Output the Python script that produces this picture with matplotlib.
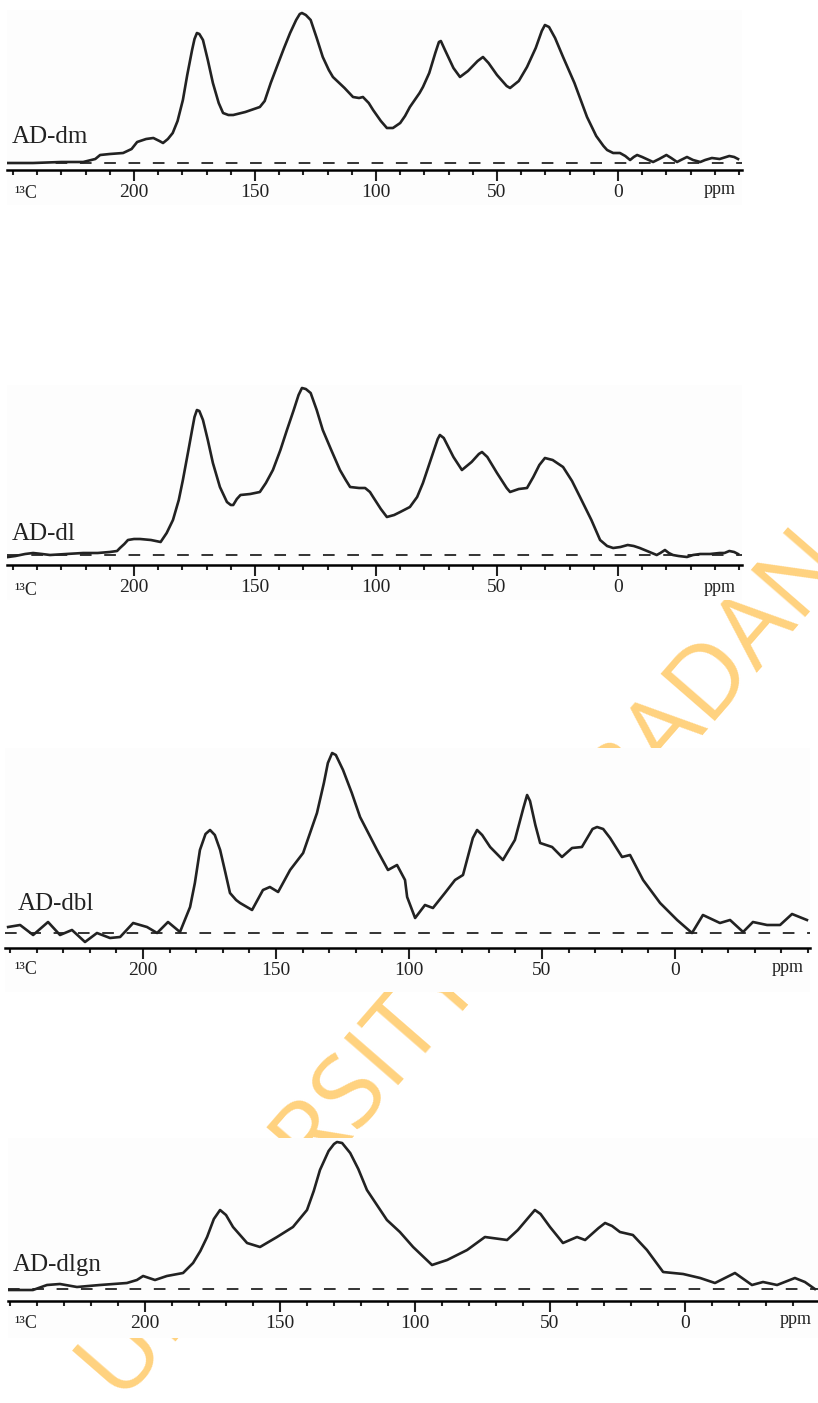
import matplotlib
matplotlib.use("Agg")
import matplotlib.pyplot as plt
from matplotlib.ticker import MultipleLocator

plt.rcParams['font.family'] = ['Liberation Serif', 'DejaVu Serif']

# 13C CP-MAS spectra, chemical shift (ppm) and intensity (arb. units)
ppm_dm = [252, 245, 241.7, 230, 221, 216, 214, 210, 204.5, 201, 198.7, 195, 192, 189.5,
          188, 186, 184, 182, 179.8, 178, 176, 175, 174, 173, 171.5, 169.5, 167.4, 165,
          163.2, 161, 159, 154, 148, 146, 143.5, 141, 138, 135.5, 133, 131.5, 130.6,
          129, 127, 124.5, 122, 119.5, 117.8, 113, 109.5, 107, 105.4, 103, 101.2, 98,
          95.5, 93, 90, 88, 86, 82, 80.6, 78, 75.5, 74, 73.2, 71.5, 68, 65.3, 62, 58,
          55.8, 53.5, 50, 46, 44.6, 41, 37.6, 34, 31.5, 30.2, 28.5, 26, 22.7, 18, 12.8,
          9, 6, 4.5, 2, -0.8, -3, -5, -6.5, -7.9, -10, -14.5, -17, -20, -22, -24.4, -26,
          -28.5, -31, -34, -36, -38.8, -42, -46, -48, -49.6]
int_dm = [0, 0, 0, 1, 1, 4, 8, 9, 10, 14, 21, 24, 25, 22,
          20, 24, 30, 42, 63, 88, 113, 124, 130, 129, 123, 103, 80, 60,
          50, 48, 48, 51, 56, 62, 80, 96, 115, 130, 143, 149, 150,
          148, 143, 125, 106, 93, 86, 75, 66, 65, 66, 60, 53, 42,
          35, 35, 40, 47, 56, 70, 76, 90, 110, 121, 122, 113, 95, 86, 92, 102,
          106, 100, 88, 77, 75, 82, 96, 115, 132, 138, 136, 125, 106, 80, 46,
          27, 17, 13, 10, 10, 7, 3, 6, 8, 6, 1, 4, 8, 5, 1, 3,
          6, 3, 1, 3, 5, 4, 7, 6, 4]

ppm_dl = [252, 249, 245, 241.7, 238, 234.7, 228, 221, 215, 210, 207, 205.8, 204, 202.5,
          200, 197.5, 193, 189, 186.5, 183.9, 181.5, 179.8, 177.5, 176, 175, 174, 173,
          171.5, 169.5, 167.4, 164.5, 161.6, 160, 159, 157.5, 156, 152, 148, 145.5,
          142.6, 139.5, 136.8, 134, 132, 130.6, 129, 127, 124.5, 122, 118.5, 114.9,
          112.5, 110.7, 107, 104.5, 102.5, 101.2, 98, 95.5, 92.5, 90, 86, 83, 80.6, 77,
          74.5, 73.6, 72, 68, 64.5, 60.5, 57.5, 56.2, 54, 50, 46, 44.6, 41, 37.6, 35,
          32.5, 30.2, 27, 22.7, 19, 15.7, 11, 7.4, 4.5, 2, -1, -4, -6.5, -9, -13, -16,
          -17.5, -19.4, -21, -22.7, -25, -28.5, -31, -34, -38, -42, -44, -46, -48, -49.6]
int_dl = [-2, -1, 1, 2, 1, 0, 1, 2, 2, 3, 4, 7, 11, 15,
          16, 16, 15, 13, 22, 35, 55, 75, 105, 125, 138, 145, 144,
          135, 115, 92, 68, 53, 50, 50, 56, 60, 61, 63, 72,
          85, 105, 125, 145, 160, 167, 166, 162, 145, 125, 105, 85,
          75, 68, 67, 67, 63, 58, 46, 38, 40, 43, 48, 58, 72, 98,
          116, 120, 117, 98, 85, 93, 101, 103, 98, 82, 67, 63, 66, 67, 78,
          90, 97, 95, 88, 74, 58, 35, 15, 9, 7, 8, 10, 9, 7, 3, 0,
          2, 5, 2, 0, -1, -2, 0, 1, 1, 2, 2, 4, 3, 1]

ppm_dbl = [250.7, 246.2, 241.3, 235.7, 231.2, 226.7, 221.8, 217.3, 212.4, 208.6, 203.7,
           198.5, 194.7, 190.6, 186.1, 182.3, 180.5, 178.6, 176.5, 174.8, 173, 171, 169,
           167.3, 165, 163.5, 159, 154.9, 152.3, 149.2, 144.7, 139.8, 134.6, 132, 130.5,
           128.9, 127.5, 124.8, 121.5, 118.4, 112, 107.9, 104.5, 101.5, 100.7, 97.7, 94,
           91, 86.5, 82.7, 79.7, 76, 74.4, 72.5, 69.5, 64.7, 60.2, 57, 55.6, 54.5, 52.5,
           50.7, 46.2, 42.5, 38.7, 35, 31, 29.3, 27, 24.4, 19.9, 16.9, 12, 5.6, -0.8,
           -6.4, -10.5, -16.9, -20.7, -25.6, -29.3, -34.6, -39.5, -44, -49.6]
int_dbl = [6, 8, -2, 11, -2, 3, -9, 0, -5, -4, 10,
           6, 0, 11, 1, 26, 50, 83, 99, 103, 98, 83, 60,
           40, 33, 30, 23, 43, 46, 41, 63, 80, 120, 150, 170,
           180, 178, 163, 140, 116, 83, 63, 68, 53, 36, 15, 28,
           25, 40, 53, 58, 95, 103, 98, 86, 73, 93, 125, 138, 132, 108,
           90, 86, 76, 85, 86, 104, 106, 104, 95, 76, 78, 53, 30, 13,
           0, 18, 10, 13, 1, 11, 8, 8, 19, 13]

ppm_dlgn = [250.7, 241.5, 236.3, 231.5, 225.2, 216.7, 206.7, 203, 200.7, 196.3, 191.9,
            185.9, 182.2, 179.5, 177, 174.5, 172.2, 170, 167.4, 162.2, 157.4, 151.1,
            145.2, 140, 137.5, 135.2, 132, 130, 128.9, 127, 124, 121, 117.8, 110.4, 105.6,
            100.7, 93.7, 88.1, 80.7, 74.1, 65.9, 61.9, 57.5, 55.6, 53.5, 50, 45.2, 40, 37,
            32, 29.6, 27, 24.1, 19.3, 14.1, 8.1, 0.7, -5.6, -11.1, -18.5, -24.8, -28.9,
            -34.1, -40.7, -44.4, -48.1]
int_dlgn = [-1, -1, 4, 5, 2, 4, 6, 9, 13, 9, 13,
            16, 26, 38, 52, 70, 79, 74, 62, 46, 42, 52,
            62, 79, 98, 119, 138, 145, 147, 146, 136, 120, 99, 69, 57,
            42, 24, 29, 39, 52, 49, 59, 73, 79, 75, 62, 46, 52, 49,
            61, 66, 63, 57, 54, 39, 17, 15, 11, 6, 16, 4, 7,
            4, 11, 7, 0]

samples = ['AD-dm', 'AD-dl', 'AD-dbl', 'AD-dlgn']
spectra = [(ppm_dm, int_dm), (ppm_dl, int_dl), (ppm_dbl, int_dbl), (ppm_dlgn, int_dlgn)]
major_ticks = [200, 150, 100, 50, 0]

W, H = 818, 1403
# panel geometry in pixels: left, right, top, bottom, x of 0 ppm, px per ppm, baseline y, axis y
panels = [
    (7, 742, 10, 205, 618, 2.42, 163, 170),
    (7, 742, 385, 600, 618, 2.42, 555, 565),
    (5, 810, 748, 992, 675, 2.66, 933, 948),
    (8, 818, 1138, 1338, 685, 2.70, 1289, 1301),
]
name_pos = [(12, 143), (12, 540), (18, 910), (13, 1271)]
ticklab_y = [193, 590, 970, 1323]

fig = plt.figure(figsize=(W / 100, H / 100), dpi=100)
fig.patch.set_facecolor('white')

# watermark behind the panels
fig.text(466 / W, 1 - 968 / H, 'UNIVERSITY OF IBADAN', rotation=49,
         ha='center', va='center', fontsize=73, color='#FFD27F',
         family='Open Sans', zorder=-1)

for i, (left, right, top, bottom, x0, ppx, ybase, yaxis) in enumerate(panels):
    ax = fig.add_axes([left / W, 1 - bottom / H, (right - left) / W, (bottom - top) / H])
    ax.set_facecolor('#fdfdfd')
    ax.set_xlim((x0 - left) / ppx, (x0 - right) / ppx)
    ax.set_ylim(-(bottom - ybase), ybase - top)

    ppm, inten = spectra[i]
    ax.axhline(0, color='#333333', lw=1.4, ls=(0, (6, 6.5)))
    ax.plot(ppm, inten, color='#222222', lw=1.9, solid_joinstyle='round')

    for s in ['top', 'right', 'left']:
        ax.spines[s].set_visible(False)
    ax.spines['bottom'].set_position(('data', -(yaxis - ybase)))
    ax.spines['bottom'].set_linewidth(1.8)
    ax.set_yticks([])
    ax.set_xticks(major_ticks)
    ax.set_xticklabels([str(t) for t in major_ticks])
    ax.xaxis.set_minor_locator(MultipleLocator(10))
    ax.tick_params(axis='x', which='major', direction='out', length=8, width=1.5,
                   labelsize=14, pad=2, colors='#222222')
    ax.tick_params(axis='x', which='minor', direction='out', length=3.5, width=1.5,
                   colors='#222222')

    nx, ny = name_pos[i]
    ax.text((x0 - nx) / ppx, ybase - ny, samples[i], fontsize=18, ha='left',
            va='baseline', color='#222222')
    yl = ybase - ticklab_y[i]
    ax.text((x0 - 14) / ppx, yl, '¹³C', fontsize=13, ha='left', va='center',
            color='#222222')
    ax.text((x0 - (right - 6)) / ppx, yl + 3, 'ppm', fontsize=13, ha='right',
            va='center', color='#222222')

fig.savefig('out.png', dpi=100)
